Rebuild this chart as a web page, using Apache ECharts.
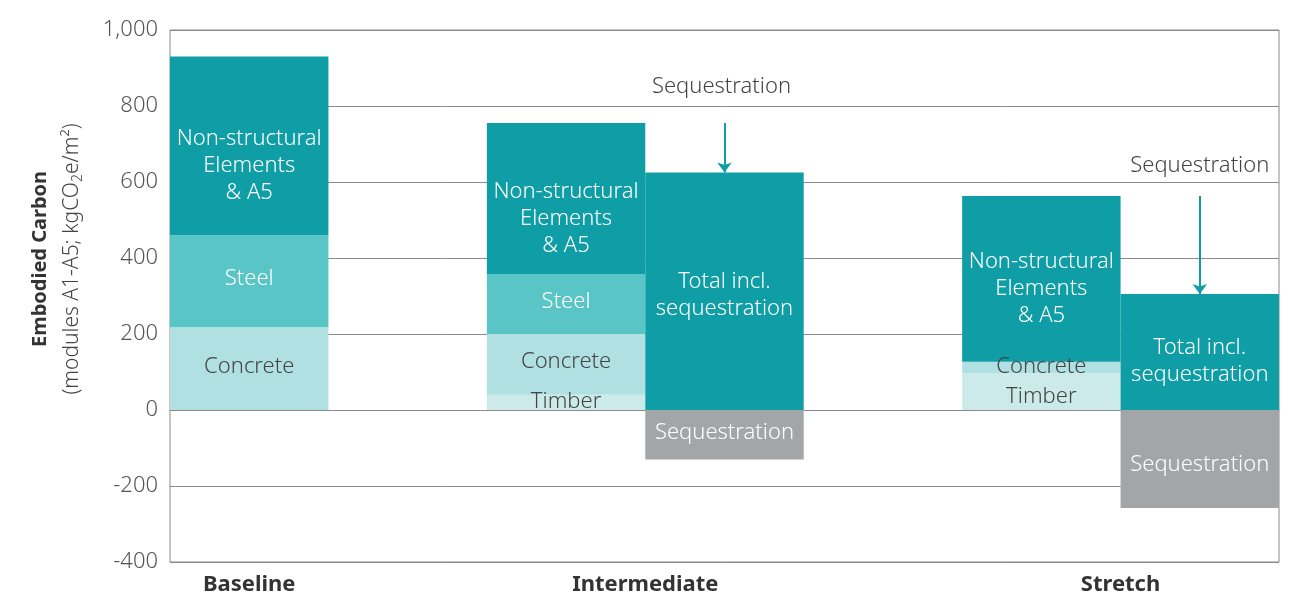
<!DOCTYPE html>
<html><head><meta charset="utf-8">
<script src="https://cdn.jsdelivr.net/npm/echarts@6/dist/echarts.min.js"></script>
<style>html,body{margin:0;padding:0;background:#fff}#c{width:1296px;height:594px}</style>
</head><body><div id="c"></div>
<script>
// ---- data ----
const categories = ['Baseline', 'gap1', 'Intermediate', 'Intermediate total', 'gap2', 'Stretch', 'Stretch total'];
const groupLabels = ['Baseline', 'Intermediate', 'Stretch'];
const groupLabelPos = [0.5, 3, 6];
const timber   = [null, null, 40,  null, null, 97,  null];
const concrete = [218,  null, 160, null, null, 30,  null];
const steel    = [242,  null, 158, null, null, null, null];
const nonStruct= [470,  null, 397, null, null, 436, null];
const totalIncl= [null, null, null, 625, null, null, 305];
const sequestration = [null, null, null, -130, null, null, -258];
const yTicks = [-400, -200, 0, 200, 400, 600, 800, 1000];

const FONT = '"Noto Sans", sans-serif';
const C_NS = '#0f9ea6', C_ST = '#5ac5c6', C_CO = '#b0e0e2', C_TI = '#cdeaeb', C_SEQ = '#a3a6a8';

function stackTop(i) {
  return [timber, concrete, steel, nonStruct].reduce((s, a) => s + (a[i] || 0), 0);
}

function withOffsets(arr, offsets) {
  return arr.map((v, i) => v == null ? null : (offsets[i] ? { value: v, label: { offset: offsets[i] } } : v));
}

const lbl = (color) => ({ show: true, position: 'inside', color: color, fontFamily: FONT, fontWeight: 300, fontSize: 22, lineHeight: 27 });

const chart = echarts.init(document.getElementById('c'));
chart.setOption({
  animation: false,
  textStyle: { fontFamily: FONT },
  grid: { left: 170, right: 17, top: 30, bottom: 32, show: true, borderColor: '#8a8a8a', borderWidth: 1,
          containLabel: false, outerBoundsMode: 'none' },
  graphic: [{
    type: 'text', x: 56, y: 259, rotation: Math.PI / 2, silent: true,
    style: {
      text: '{b|Embodied Carbon}\n{n|(modules A1-A5; kgCO}{s|2}{n|e/m²)}',
      align: 'center', verticalAlign: 'middle',
      rich: {
        b: { fontFamily: FONT, fontWeight: 'bold', fontSize: 20, fill: '#333', lineHeight: 32, align: 'center' },
        n: { fontFamily: FONT, fontWeight: 300, fontSize: 21, fill: '#444', lineHeight: 32 },
        s: { fontFamily: FONT, fontWeight: 300, fontSize: 14, fill: '#444', lineHeight: 32, padding: [12, 0, 0, 0] }
      }
    }
  }],
  xAxis: [
    { type: 'category', data: categories, axisLabel: { show: false }, axisTick: { show: false },
      axisLine: { show: true, onZero: true, lineStyle: { color: '#8a8a8a', width: 1 } }, splitLine: { show: false } },
    { type: 'value', position: 'bottom', min: 0, max: 7, interval: 0.5,
      axisLine: { show: false }, axisTick: { show: false }, splitLine: { show: false },
      axisLabel: { show: true, margin: 12, fontFamily: FONT, fontWeight: 'bold', fontSize: 22, color: '#333',
        formatter: function (v) { const k = groupLabelPos.findIndex(p => Math.abs(p - v) < 1e-6); return k >= 0 ? groupLabels[k] : ''; } } }
  ],
  yAxis: {
    type: 'value', min: yTicks[0], max: yTicks[yTicks.length - 1], interval: 200,
    axisLine: { show: false }, axisTick: { show: false },
    splitLine: { show: true, lineStyle: { color: '#8a8a8a', width: 1 } },
    axisLabel: { margin: 12, fontFamily: FONT, fontWeight: 300, fontSize: 22, color: '#555',
      formatter: v => v.toLocaleString('en-US') }
  },
  series: [
    { name: 'Timber', type: 'bar', stack: 's', barWidth: '100%', data: withOffsets(timber, {2: [0, -1], 5: [0, 5]}),
      itemStyle: { color: C_TI }, label: Object.assign(lbl('#444'), { formatter: 'Timber' }) },
    { name: 'Concrete', type: 'bar', stack: 's', barWidth: '100%', data: withOffsets(concrete, {0: [0, -2], 2: [0, -3], 5: [0, -1]}),
      itemStyle: { color: C_CO }, label: Object.assign(lbl('#444'), { formatter: 'Concrete' }) },
    { name: 'Steel', type: 'bar', stack: 's', barWidth: '100%', data: withOffsets(steel, {0: [0, -2], 2: [0, -2]}),
      itemStyle: { color: C_ST }, label: Object.assign(lbl('#fff'), { formatter: 'Steel' }) },
    { name: 'Non-structural Elements & A5', type: 'bar', stack: 's', barWidth: '100%', data: withOffsets(nonStruct, {0: [0, 20], 2: [0, 20], 5: [0, 10]}),
      itemStyle: { color: C_NS }, label: Object.assign(lbl('#fff'), { formatter: 'Non-structural\nElements\n& A5' }) },
    { name: 'Total incl. sequestration', type: 'bar', stack: 's', barWidth: '100%', data: withOffsets(totalIncl, {3: [0, 4], 6: [0, 9]}),
      itemStyle: { color: C_NS }, label: Object.assign(lbl('#fff'), { formatter: 'Total incl.\nsequestration' }),
      markLine: {
        silent: true, symbol: ['none', 'arrow'], symbolSize: [11, 10],
        lineStyle: { color: C_NS, width: 2, type: 'solid' },
        label: { show: true, position: 'start', formatter: 'Sequestration', fontFamily: FONT, fontWeight: 300, fontSize: 22, color: '#444' },
        data: [
          [{ coord: [3, stackTop(2)], label: { distance: 25, offset: [-3, 0] } }, { coord: [3, totalIncl[3]] }],
          [{ coord: [6, stackTop(5)], label: { distance: 19 } }, { coord: [6, totalIncl[6]] }]
        ]
      } },
    { name: 'Sequestration', type: 'bar', stack: 's', barWidth: '100%', data: withOffsets(sequestration, {3: [0, -2], 6: [0, 6]}),
      itemStyle: { color: C_SEQ }, label: Object.assign(lbl('#fff'), { formatter: 'Sequestration' }) }
  ]
});
</script></body></html>
